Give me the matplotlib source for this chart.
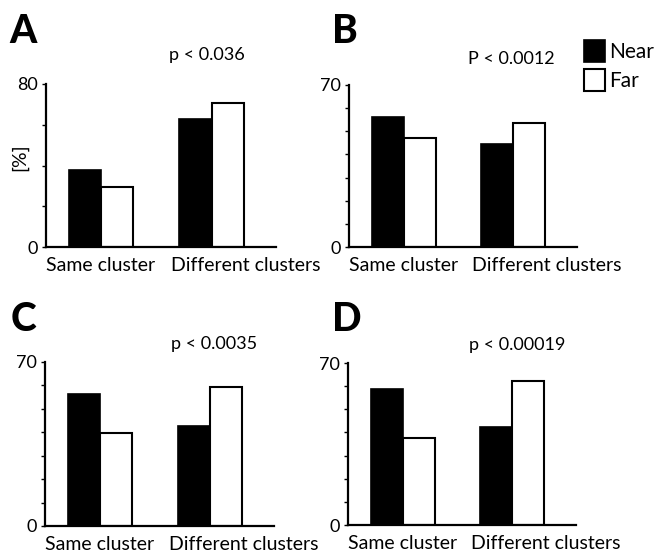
import matplotlib
matplotlib.use("Agg")
import matplotlib.pyplot as plt
from matplotlib.patches import Patch

plt.rcParams['font.family'] = ['Lato', 'DejaVu Sans']

# data (percent)
groups = ["Same cluster", "Different clusters"]
panels = ["A", "B", "C", "D"]
pvals = ["p < 0.036", "P < 0.0012", "p < 0.0035", "p < 0.00019"]
ymax = [80, 70, 70, 70]
ystep = [20, 10, 10, 10]
near_A = [38, 63]
far_A = [29.3, 70.7]
near_B = [56.2, 44.5]
far_B = [47.1, 53.6]
near_C = [56.4, 42.8]
far_C = [39.9, 59.4]
near_D = [58.8, 42.3]
far_D = [37.6, 62.2]
near = [near_A, near_B, near_C, near_D]
far = [far_A, far_B, far_C, far_D]

W, H = 656, 552
fig = plt.figure(figsize=(W / 100, H / 100), dpi=100)

# axes boxes in pixels: left, top, right, bottom
boxes = [(46, 84, 276, 247), (349, 85, 577, 247),
         (45, 362, 274, 526), (348, 363, 576, 525)]
letter_xy = [(9, 13), (332, 13), (11, 301), (332, 301)]
p_xy = [(0.70, 1.18), (0.71, 1.16), (0.74, 1.11), (0.74, 1.11)]

bar_left = [0.72, 4.15]
lab_x = [1.7, 6.2]

for i in range(4):
    l, t, r, b = boxes[i]
    ax = fig.add_axes([l / W, 1 - b / H, (r - l) / W, (b - t) / H])
    nl = [x for x in bar_left]
    fl = [x + 1 for x in bar_left]
    ax.bar(nl, near[i], width=1, align='edge', color='black', edgecolor='black', lw=1.2)
    ax.bar(fl, far[i], width=1, align='edge', color='white', edgecolor='black', lw=1.5)
    ax.set_xlim(0, 7.15)
    ax.set_ylim(0, ymax[i])
    ticks = list(range(0, ymax[i] + 1, ystep[i]))
    ax.set_yticks(ticks)
    ax.set_yticklabels([str(v) if v in (0, ymax[i]) else "" for v in ticks])
    ax.set_xticks(lab_x)
    ax.set_xticklabels(groups)
    ax.tick_params(axis='x', length=0, pad=7, labelsize=14)
    ax.tick_params(axis='y', length=3, width=1, direction='out', pad=3, labelsize=13)
    for s in ['top', 'right']:
        ax.spines[s].set_visible(False)
    for s in ['left', 'bottom']:
        ax.spines[s].set_linewidth(1.6)
    ax.text(p_xy[i][0], p_xy[i][1], pvals[i], transform=ax.transAxes,
            ha='center', va='center', fontsize=13)
    fig.text(letter_xy[i][0] / W, 1 - letter_xy[i][1] / H, panels[i],
             ha='left', va='top', fontsize=28, fontweight='black')

# y label of panel A
fig.text(20 / W, 1 - 157 / H, "[%]", rotation=90, ha='center', va='center', fontsize=14)

handles = [Patch(facecolor='black', edgecolor='black', lw=1.2),
           Patch(facecolor='white', edgecolor='black', lw=1.5)]
fig.legend(handles, ["Near", "Far"], loc='upper left',
           bbox_to_anchor=(576 / W, 1 - 32 / H), frameon=False,
           handlelength=1.0, handleheight=1.2, handletextpad=0.2,
           labelspacing=0.35, fontsize=15, borderaxespad=0)

fig.savefig("out.png", dpi=100)
